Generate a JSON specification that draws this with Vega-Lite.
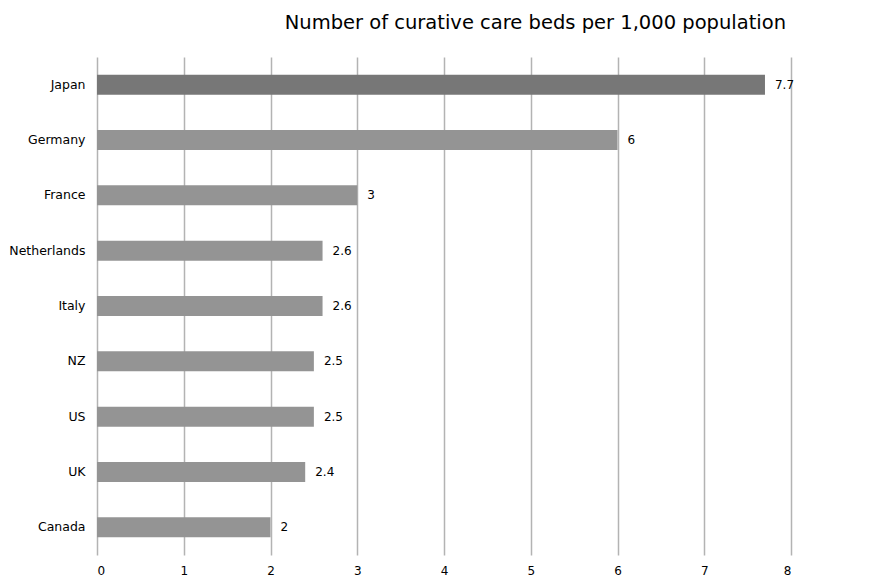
{
  "$schema": "https://vega.github.io/schema/vega-lite/v6.json",
  "width": 694,
  "height": 498,
  "autosize": {"type": "none"},
  "padding": {"left": 97, "top": 57, "right": 84, "bottom": 22},
  "background": "white",
  "title": {
    "text": "Number of curative care beds per 1,000 population",
    "anchor": "end",
    "dx": -8,
    "offset": 24,
    "fontSize": 19.5,
    "font": "DejaVu Sans",
    "fontWeight": "normal",
    "color": "#000000"
  },
  "config": {
    "view": {"stroke": null},
    "font": "DejaVu Sans"
  },
  "data": {
    "values": [
      {"country": "Japan", "beds": 7.7, "highlight": "yes"},
      {"country": "Germany", "beds": 6, "highlight": "no"},
      {"country": "France", "beds": 3, "highlight": "no"},
      {"country": "Netherlands", "beds": 2.6, "highlight": "no"},
      {"country": "Italy", "beds": 2.6, "highlight": "no"},
      {"country": "NZ", "beds": 2.5, "highlight": "no"},
      {"country": "US", "beds": 2.5, "highlight": "no"},
      {"country": "UK", "beds": 2.4, "highlight": "no"},
      {"country": "Canada", "beds": 2, "highlight": "no"}
    ]
  },
  "encoding": {
    "y": {
      "field": "country",
      "type": "nominal",
      "sort": null,
      "scale": {"paddingInner": 0.64, "paddingOuter": 0.32},
      "axis": {
        "title": null,
        "domain": false,
        "ticks": false,
        "grid": false,
        "labelPadding": 12,
        "labelFontSize": 12.5,
        "labelColor": "#000000",
        "labelFont": "DejaVu Sans"
      }
    },
    "x": {
      "field": "beds",
      "type": "quantitative",
      "scale": {"domain": [0, 8], "nice": false},
      "axis": {
        "title": null,
        "domain": false,
        "ticks": false,
        "grid": true,
        "gridColor": "#b3b3b3",
        "gridWidth": 1.5,
        "values": [0, 1, 2, 3, 4, 5, 6, 7, 8],
        "labelPadding": 10,
        "labelFontSize": 12,
        "labelColor": "#000000",
        "labelFont": "DejaVu Sans"
      }
    }
  },
  "layer": [
    {
      "mark": {"type": "bar"},
      "encoding": {
        "color": {
          "field": "highlight",
          "type": "nominal",
          "scale": {"domain": ["yes", "no"], "range": ["#777777", "#949494"]},
          "legend": null
        }
      }
    },
    {
      "mark": {"type": "text", "align": "left", "baseline": "middle", "dx": 10, "fontSize": 12, "color": "#000000"},
      "encoding": {
        "text": {"field": "beds", "type": "quantitative"}
      }
    }
  ]
}
